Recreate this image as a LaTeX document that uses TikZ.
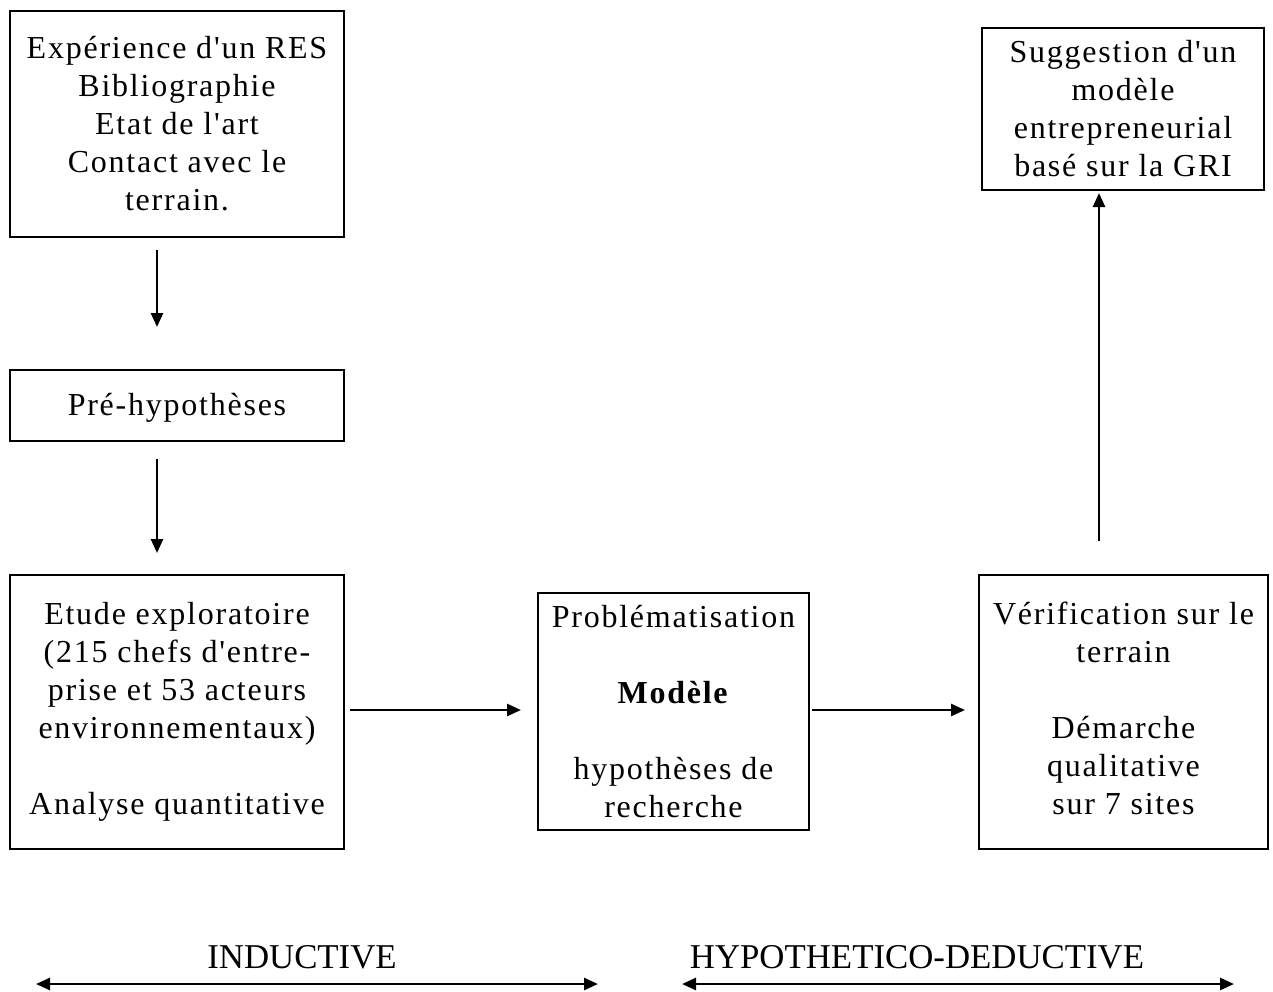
\documentclass[tikz,border=0pt]{standalone}
\usepackage{fontspec}
\setmainfont{Liberation Serif}
\newfontfamily\boxfont[LetterSpace=5.5]{Liberation Serif}
\usetikzlibrary{arrows.meta}
\begin{document}
\begin{tikzpicture}[x=0.5pt,y=-0.5pt,
  stepbox/.style={draw,line width=1pt,align=center,inner sep=0pt,
    font=\boxfont\fontsize{16}{19}\selectfont},
  arr/.style={line width=1.3pt,-{Triangle[length=7pt,width=6pt]}},
  darr/.style={line width=1.3pt,{Triangle[length=7pt,width=6pt]}-{Triangle[length=7pt,width=6pt]}},
  lab/.style={anchor=base,inner sep=0pt,font=\fontsize{17.4}{20}\selectfont}]
\useasboundingbox (0,0) rectangle (1273,991);
\node[stepbox,minimum width=167pt,minimum height=113pt] (b1) at (177,124)
  {Expérience d'un RES\\Bibliographie\\Etat de l'art\\Contact avec le\\terrain.};
\node[stepbox,minimum width=167pt,minimum height=35.5pt,text height=13pt] (b2) at (177,405.5)
  {Pré-hypothèses};
\node[stepbox,minimum width=167pt,minimum height=137pt] (b3) at (177,712)
  {Etude exploratoire\\(215 chefs d'entre-\\prise et 53 acteurs\\environnementaux)\\[19pt]Analyse quantitative};
\node[stepbox,minimum width=135.5pt,minimum height=118.5pt] (b4) at (673.5,711.5)
  {Problématisation\\[19pt]\textbf{Modèle}\\[19pt]hypothèses de\\recherche};
\node[stepbox,minimum width=144.5pt,minimum height=137pt,text depth=4pt] (b5) at (1123.5,712)
  {Vérification sur le\\terrain\\[19pt]Démarche\\qualitative\\sur 7 sites};
\node[stepbox,minimum width=141pt,minimum height=81pt] (b6) at (1123,109)
  {Suggestion d'un\\modèle\\entrepreneurial\\basé sur la GRI};
\coordinate (a1s) at (157,250);
\coordinate (a1e) at (157,327);
\coordinate (a2s) at (157,459);
\coordinate (a2e) at (157,553);
\coordinate (a3s) at (350,710);
\coordinate (a3e) at (521,710);
\coordinate (a4s) at (812,710);
\coordinate (a4e) at (965,710);
\coordinate (a5s) at (1099,541);
\coordinate (a5e) at (1099,193);
\draw[arr] (a1s) -- (a1e);
\draw[arr] (a2s) -- (a2e);
\draw[arr] (a3s) -- (a3e);
\draw[arr] (a4s) -- (a4e);
\draw[arr] (a5s) -- (a5e);
\node[lab] (lind) at (302,968) {INDUCTIVE};
\node[lab] (lhyp) at (917,968) {HYPOTHETICO-DEDUCTIVE};
\coordinate (i1) at (36,984);
\coordinate (i2) at (598,984);
\coordinate (h1) at (682,984);
\coordinate (h2) at (1234,984);
\draw[darr] (i1) -- (i2);
\draw[darr] (h1) -- (h2);
\end{tikzpicture}
\end{document}
